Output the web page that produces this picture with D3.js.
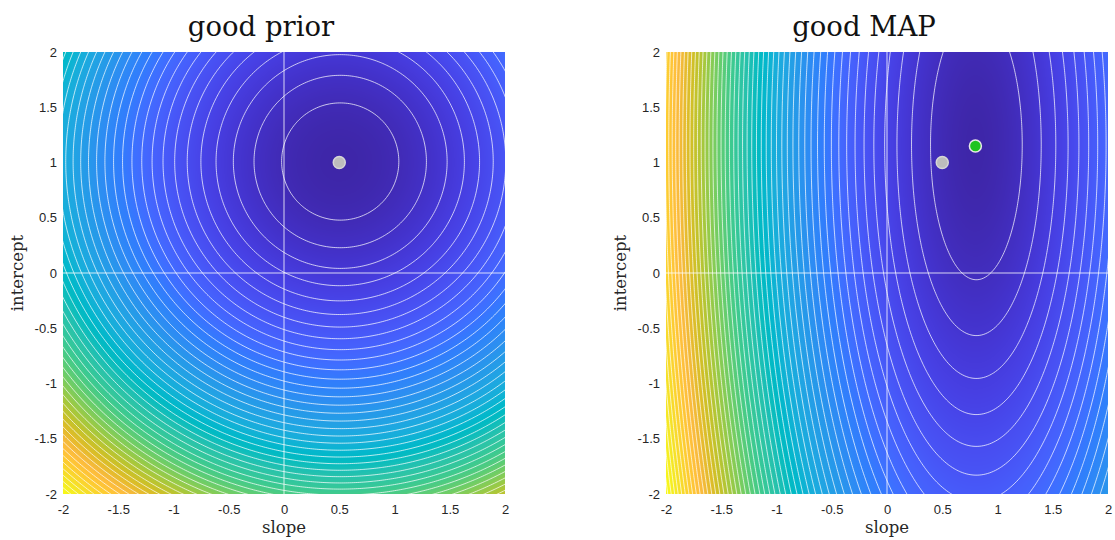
<!DOCTYPE html>
<html>
<head>
<meta charset="utf-8">
<script src="https://cdn.jsdelivr.net/npm/d3@7"></script>
<style>
  body { margin: 0; background: #fff; }
  svg { display: block; }
</style>
</head>
<body>
<svg id="chart" width="1115" height="540"></svg>
<script>
// ---- tick labels ----
const slopeTicks = [-2, -1.5, -1, -0.5, 0, 0.5, 1, 1.5, 2];
const interceptTicks = [-2, -1.5, -1, -0.5, 0, 0.5, 1, 1.5, 2];
const slopeDomain = [-2, 2];
const interceptDomain = [-2, 2];

// ---- panel titles and axis labels ----
const panelTitles = ["good prior", "good MAP"];
const xLabel = "slope";
const yLabel = "intercept";

// ---- prior: negative log density, isotropic around the prior mean ----
const priorMean = [0.5, 1.0];
const priorScale = [0.572, 0.572];
const priorLevelStart = 0.86;
const priorLevelStep = 1;

// ---- posterior: negative log density around the MAP estimate ----
const mapEstimate = [0.8, 1.15];
const posteriorScale = [0.415, 1.22];
const posteriorLevelStart = 1;
const posteriorLevelStep = 1;

// ---- reference parameters (gray marker) ----
const trueParams = [0.5, 1.0];

// MATLAB parula colormap (64 entries)
const parula = [
[0.2422,0.1504,0.6603],[0.2504,0.1650,0.7076],[0.2578,0.1818,0.7511],[0.2647,0.1978,0.7952],
[0.2706,0.2147,0.8364],[0.2751,0.2342,0.8710],[0.2783,0.2559,0.8991],[0.2803,0.2782,0.9221],
[0.2813,0.3006,0.9414],[0.2810,0.3228,0.9579],[0.2795,0.3447,0.9717],[0.2760,0.3667,0.9829],
[0.2699,0.3892,0.9906],[0.2602,0.4123,0.9952],[0.2440,0.4358,0.9988],[0.2206,0.4603,0.9973],
[0.1963,0.4847,0.9892],[0.1834,0.5074,0.9798],[0.1786,0.5289,0.9682],[0.1764,0.5499,0.9520],
[0.1687,0.5703,0.9359],[0.1540,0.5902,0.9218],[0.1460,0.6091,0.9079],[0.1380,0.6276,0.8973],
[0.1248,0.6459,0.8883],[0.1113,0.6635,0.8763],[0.0952,0.6798,0.8598],[0.0689,0.6948,0.8394],
[0.0297,0.7082,0.8163],[0.0036,0.7203,0.7917],[0.0067,0.7312,0.7660],[0.0433,0.7411,0.7394],
[0.0964,0.7500,0.7120],[0.1408,0.7584,0.6842],[0.1717,0.7670,0.6554],[0.1938,0.7758,0.6251],
[0.2161,0.7843,0.5923],[0.2470,0.7918,0.5567],[0.2906,0.7973,0.5188],[0.3406,0.8008,0.4789],
[0.3909,0.8029,0.4354],[0.4456,0.8024,0.3909],[0.5044,0.7993,0.3480],[0.5616,0.7942,0.3045],
[0.6174,0.7876,0.2612],[0.6720,0.7793,0.2227],[0.7242,0.7698,0.1910],[0.7738,0.7598,0.1646],
[0.8203,0.7498,0.1535],[0.8634,0.7406,0.1596],[0.9035,0.7330,0.1774],[0.9393,0.7288,0.2100],
[0.9728,0.7298,0.2394],[0.9956,0.7434,0.2371],[0.9970,0.7659,0.2199],[0.9952,0.7893,0.2028],
[0.9892,0.8136,0.1885],[0.9786,0.8386,0.1766],[0.9676,0.8639,0.1643],[0.9610,0.8890,0.1537],
[0.9597,0.9135,0.1423],[0.9628,0.9373,0.1265],[0.9691,0.9606,0.1064],[0.9769,0.9839,0.0805]
].map(c => d3.rgb(c[0] * 255, c[1] * 255, c[2] * 255).toString());
const interpolateParula = d3.piecewise(d3.interpolateRgb, parula);

function quadratic(center, scale) {
  return (a, b) => {
    const u = (a - center[0]) / scale[0];
    const v = (b - center[1]) / scale[1];
    return u * u + v * v;
  };
}

const panels = [
  {
    title: panelTitles[0], left: 63, titleX: 261, colorExponent: 1,
    f: quadratic(priorMean, priorScale),
    levelStart: priorLevelStart, levelStep: priorLevelStep,
    markers: [{ p: trueParams, fill: "#bdbdbd", stroke: "#d6d6d6" }]
  },
  {
    title: panelTitles[1], left: 666, titleX: 864, colorExponent: 0.88,
    f: quadratic(mapEstimate, posteriorScale),
    levelStart: posteriorLevelStart, levelStep: posteriorLevelStep,
    markers: [
      { p: trueParams, fill: "#bdbdbd", stroke: "#d6d6d6" },
      { p: mapEstimate, fill: "#1fc41f", stroke: "#e8e8e8" }
    ]
  }
];

const plotTop = 52, plotSize = 442;
const svg = d3.select("#chart");
const defs = svg.append("defs");

panels.forEach((P, k) => {
  const x = d3.scaleLinear().domain(slopeDomain).range([P.left, P.left + plotSize]);
  const y = d3.scaleLinear().domain(interceptDomain).range([plotTop + plotSize, plotTop]);

  // colour range over the visible domain
  let vmin = Infinity, vmax = -Infinity;
  for (let i = 0; i <= 200; i++) for (let j = 0; j <= 200; j++) {
    const v = P.f(-2 + 4 * i / 200, -2 + 4 * j / 200);
    if (v < vmin) vmin = v;
    if (v > vmax) vmax = v;
  }
  const color = d3.scaleSequentialPow(interpolateParula)
    .exponent(P.colorExponent).domain([vmin, vmax]);

  // shaded surface
  const canvas = document.createElement("canvas");
  canvas.width = plotSize; canvas.height = plotSize;
  const ctx = canvas.getContext("2d");
  const img = ctx.createImageData(plotSize, plotSize);
  for (let py = 0; py < plotSize; py++) {
    const b = y.invert(plotTop + py + 0.5);
    for (let px = 0; px < plotSize; px++) {
      const a = x.invert(P.left + px + 0.5);
      const c = d3.rgb(color(P.f(a, b)));
      const o = 4 * (py * plotSize + px);
      img.data[o] = c.r; img.data[o + 1] = c.g; img.data[o + 2] = c.b; img.data[o + 3] = 255;
    }
  }
  ctx.putImageData(img, 0, 0);

  const clipId = "clip" + k;
  defs.append("clipPath").attr("id", clipId)
    .append("rect").attr("x", P.left).attr("y", plotTop).attr("width", plotSize).attr("height", plotSize);

  const g = svg.append("g");
  g.append("image")
    .attr("x", P.left).attr("y", plotTop)
    .attr("width", plotSize).attr("height", plotSize)
    .attr("preserveAspectRatio", "none")
    .attr("href", canvas.toDataURL());

  // contour lines, computed on a grid wider than the axes so edges stay hidden
  const n = 261, ext = 2.3;
  const gx = d3.scaleLinear().domain([0, n - 1]).range([-ext, ext]);
  const gy = d3.scaleLinear().domain([0, n - 1]).range([-ext, ext]);
  const values = new Float64Array(n * n);
  for (let j = 0; j < n; j++) for (let i = 0; i < n; i++) values[j * n + i] = P.f(gx(i), gy(j));
  const levels = d3.range(P.levelStart, vmax, P.levelStep);
  const contours = d3.contours().size([n, n]).thresholds(levels)(values);
  const proj = d3.geoTransform({
    point(px, py) { this.stream.point(x(gx(px)), y(gy(py))); }
  });
  const path = d3.geoPath(proj);

  const inner = g.append("g").attr("clip-path", `url(#${clipId})`);
  inner.selectAll("path.contour").data(contours).join("path")
    .attr("class", "contour")
    .attr("d", path)
    .attr("fill", "none")
    .attr("stroke", "#ffffff")
    .attr("stroke-opacity", 0.72)
    .attr("stroke-width", 1);

  // zero lines
  inner.append("line")
    .attr("x1", x(0)).attr("x2", x(0)).attr("y1", plotTop).attr("y2", plotTop + plotSize)
    .attr("stroke", "#fff").attr("stroke-opacity", 0.8).attr("stroke-width", 1);
  inner.append("line")
    .attr("x1", P.left).attr("x2", P.left + plotSize).attr("y1", y(0)).attr("y2", y(0))
    .attr("stroke", "#fff").attr("stroke-opacity", 0.8).attr("stroke-width", 1);

  // markers
  g.selectAll("circle.marker").data(P.markers).join("circle")
    .attr("class", "marker")
    .attr("cx", d => x(d.p[0])).attr("cy", d => y(d.p[1]))
    .attr("r", 6)
    .attr("fill", d => d.fill)
    .attr("stroke", d => d.stroke)
    .attr("stroke-width", 1.5);

  // axes
  const fmt = d => String(d);
  const xAxis = g.append("g").attr("transform", `translate(0,${plotTop + plotSize})`)
    .call(d3.axisBottom(x).tickValues(slopeTicks).tickSize(0).tickPadding(11).tickFormat(fmt));
  const yAxis = g.append("g").attr("transform", `translate(${P.left},0)`)
    .call(d3.axisLeft(y).tickValues(interceptTicks).tickSize(0).tickPadding(6).tickFormat(fmt));
  [xAxis, yAxis].forEach(ax => {
    ax.select(".domain").remove();
    ax.selectAll("text")
      .attr("fill", "#262626")
      .style("font-family", "'Liberation Sans', Arial, sans-serif")
      .style("font-size", "13px");
  });

  // labels
  g.append("text")
    .attr("x", P.titleX).attr("y", 36)
    .attr("text-anchor", "middle")
    .style("font-family", "'DejaVu Serif', serif")
    .style("font-size", "27.5px")
    .attr("fill", "#111")
    .text(P.title);
  g.append("text")
    .attr("x", P.left + plotSize / 2).attr("y", 533)
    .attr("text-anchor", "middle")
    .style("font-family", "'DejaVu Serif', serif")
    .style("font-size", "16.5px")
    .attr("fill", "#262626")
    .text(xLabel);
  g.append("text")
    .attr("transform", `translate(${P.left - 40},${plotTop + plotSize / 2}) rotate(-90)`)
    .attr("text-anchor", "middle")
    .style("font-family", "'DejaVu Serif', serif")
    .style("font-size", "16.5px")
    .attr("fill", "#262626")
    .text(yLabel);
});
</script>
</body>
</html>
